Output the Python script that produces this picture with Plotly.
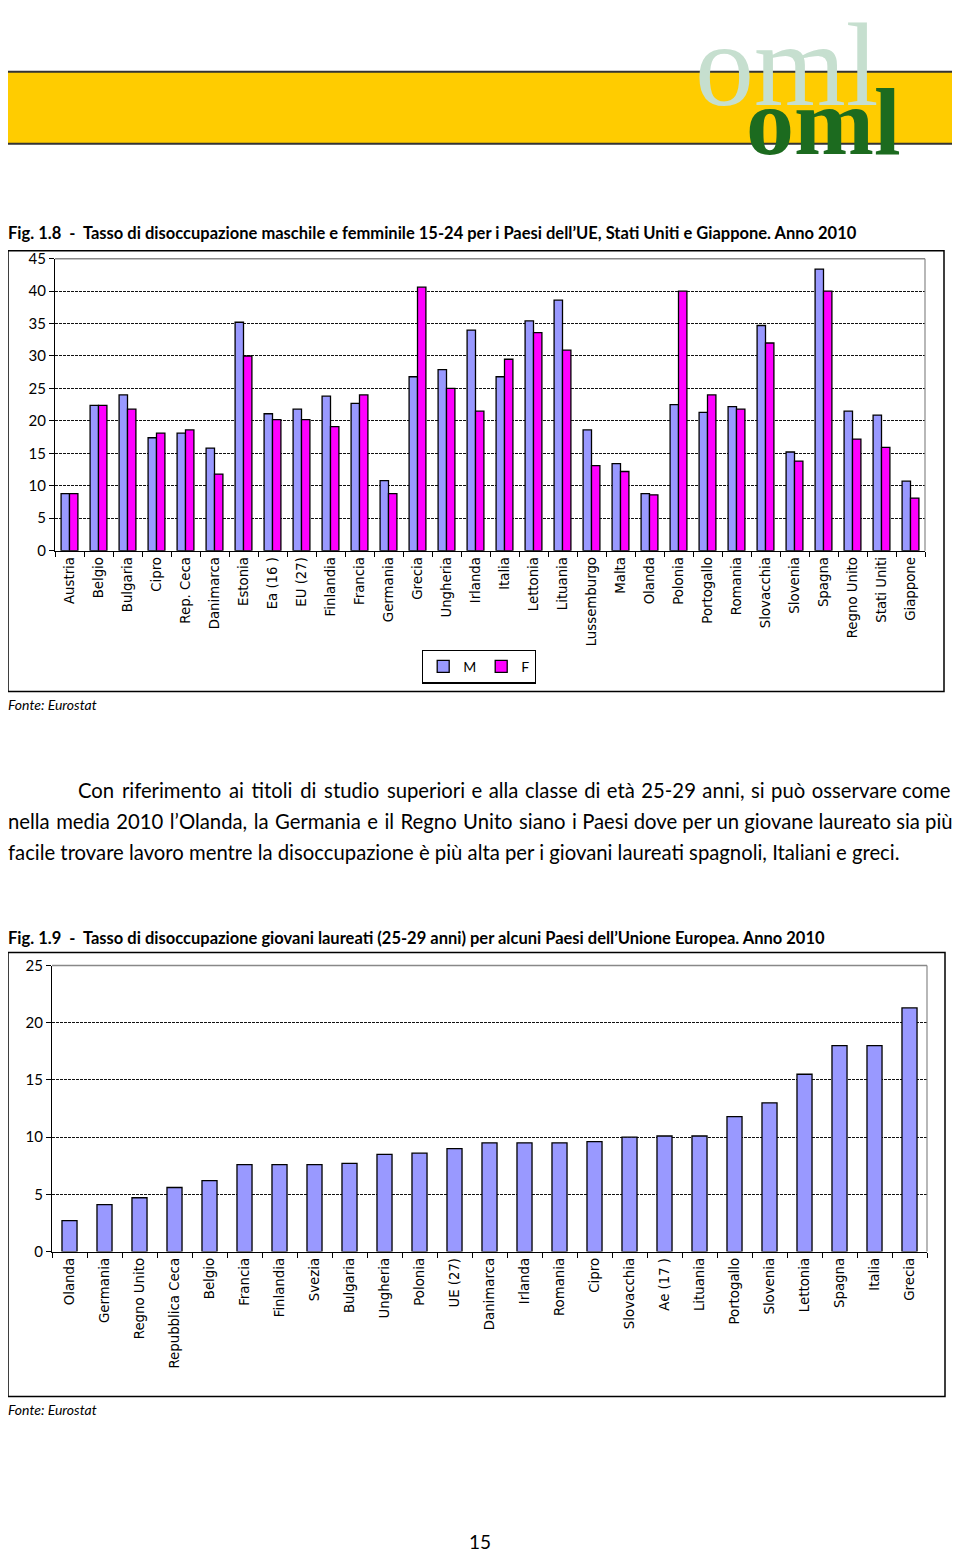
import plotly.graph_objects as go

# ---------------- data ----------------
paesi1 = ["Austria", "Belgio", "Bulgaria", "Cipro", "Rep. Ceca", "Danimarca", "Estonia",
          "Ea (16 )", "EU (27)", "Finlandia", "Francia", "Germania", "Grecia", "Ungheria",
          "Irlanda", "Italia", "Lettonia", "Lituania", "Lussemburgo", "Malta", "Olanda",
          "Polonia", "Portogallo", "Romania", "Slovacchia", "Slovenia", "Spagna",
          "Regno Unito", "Stati Uniti", "Giappone"]
maschi = [8.8, 22.4, 24.0, 17.4, 18.1, 15.8, 35.2, 21.1, 21.8, 23.8, 22.7, 10.8, 26.8, 27.9,
          34.0, 26.8, 35.4, 38.6, 18.6, 13.4, 8.8, 22.5, 21.3, 22.2, 34.7, 15.2, 43.4,
          21.5, 20.9, 10.7]
femmine = [8.8, 22.4, 21.8, 18.1, 18.6, 11.8, 30.0, 20.2, 20.2, 19.1, 24.0, 8.8, 40.6, 25.0,
           21.5, 29.5, 33.6, 30.9, 13.1, 12.2, 8.6, 40.0, 24.0, 21.8, 32.0, 13.8, 40.0,
           17.2, 15.9, 8.1]

paesi2 = ["Olanda", "Germania", "Regno Unito", "Repubblica Ceca", "Belgio", "Francia",
          "Finlandia", "Svezia", "Bulgaria", "Ungheria", "Polonia", "UE (27)", "Danimarca",
          "Irlanda", "Romania", "Cipro", "Slovacchia", "Ae (17 )", "Lituania", "Portogallo",
          "Slovenia", "Lettonia", "Spagna", "Italia", "Grecia"]
laureati = [2.7, 4.1, 4.7, 5.6, 6.2, 7.6, 7.6, 7.6, 7.7, 8.5, 8.6, 9.0, 9.5, 9.5, 9.5, 9.6,
            10.0, 10.1, 10.1, 11.8, 13.0, 15.5, 18.0, 18.0, 21.3]

ticks1 = [0, 5, 10, 15, 20, 25, 30, 35, 40, 45]
ticks2 = [0, 5, 10, 15, 20, 25]

titolo1 = "Fig. 1.8  -  Tasso di disoccupazione maschile e femminile 15-24 per i Paesi dell\u2019UE, Stati Uniti e Giappone. Anno 2010"
titolo2 = "Fig. 1.9  -  Tasso di disoccupazione giovani laureati (25-29 anni) per alcuni Paesi dell\u2019Unione Europea. Anno 2010"
testo = ["Con riferimento ai titoli di studio superiori e alla classe di età 25-29 anni, si può osservare come",
         "nella media 2010 l\u2019Olanda, la Germania e il Regno Unito siano i Paesi dove per un giovane laureato sia più",
         "facile trovare lavoro mentre la disoccupazione è più alta per i giovani laureati spagnoli, Italiani e greci."]

# ---------------- page geometry helpers ----------------
# horizontal: the plot div sits inside the 8px body margin
# vertical: the captured page area is ~1570px tall (shown at 1552) and the div starts ~17.5px down
MX = 8
W = 960 - 2 * MX
H = 1552
SY = 1552 / 1570
TOP = 17.5
def px(x):
    return (x - MX) / W
def py(y):
    return 1 - (y / SY - TOP) / H

BODY = "Lato, Carlito, 'Open Sans', sans-serif"
TICKF = "'DejaVu Sans', Verdana, sans-serif"
SERIF = "'Liberation Serif', 'Times New Roman', serif"

fig = go.Figure()

fig.add_trace(go.Bar(name="M", x=paesi1, y=maschi, marker=dict(color="#9999FF", line=dict(color="black", width=1.3)),
                     xaxis="x", yaxis="y"))
fig.add_trace(go.Bar(name="F", x=paesi1, y=femmine, marker=dict(color="#FF00FF", line=dict(color="black", width=1.3)),
                     xaxis="x", yaxis="y"))
fig.add_trace(go.Bar(name="Laureati", x=paesi2, y=laureati, showlegend=False, width=0.43,
                     marker=dict(color="#9999FF", line=dict(color="black", width=1.3)),
                     xaxis="x2", yaxis="y2"))

common_x = dict(type="category", tickson="boundaries", ticks="outside", ticklen=5, tickcolor="black",
                showline=True, linecolor="black", linewidth=1.2, tickangle=-90,
                tickfont=dict(family=TICKF, size=13.3, color="black"), showgrid=False, fixedrange=True)
common_y = dict(ticks="outside", ticklen=5, tickcolor="black", showline=True, linecolor="black", linewidth=1.2,
                tickfont=dict(family=BODY, size=15, color="black"), showgrid=True, gridcolor="#111111",
                gridwidth=1, griddash="3px,1px", zeroline=False, fixedrange=True)

fig.update_layout(
    width=W, height=H, margin=dict(l=0, r=0, t=0, b=0),
    paper_bgcolor="white", plot_bgcolor="white",
    barmode="group", bargap=0.42, bargroupgap=0.0,
    xaxis=dict(domain=[px(55), px(925)], anchor="y", **common_x),
    yaxis=dict(domain=[py(550), py(258)], anchor="x", range=[0, 45], tickvals=ticks1, **common_y),
    xaxis2=dict(domain=[px(52), px(927)], anchor="y2", **common_x),
    yaxis2=dict(domain=[py(1251), py(965)], anchor="x2", range=[0, 25], tickvals=ticks2, **common_y),
    legend=dict(orientation="h", x=px(479), y=py(666), xanchor="center", yanchor="middle",
                bordercolor="black", borderwidth=1.2, bgcolor="white",
                font=dict(family=BODY, size=14, color="black"), itemwidth=30,
                tracegroupgap=0),
    showlegend=True,
)

shapes = []
# header bar
shapes.append(dict(type="rect", xref="paper", yref="paper", x0=px(4), x1=px(953), y0=py(143), y1=py(71),
                   fillcolor="#FFCC00", line=dict(color="#333333", width=2), layer="below"))
# outer chart boxes
shapes.append(dict(type="rect", xref="paper", yref="paper", x0=px(8), x1=px(944), y0=py(691), y1=py(250),
                   line=dict(color="black", width=1.5), fillcolor="rgba(0,0,0,0)", layer="below"))
shapes.append(dict(type="rect", xref="paper", yref="paper", x0=px(8), x1=px(945), y0=py(1396), y1=py(952),
                   line=dict(color="black", width=1.5), fillcolor="rgba(0,0,0,0)", layer="below"))
# gray plot-area borders (top and right)
for xr, yr in (("x domain", "y domain"), ("x2 domain", "y2 domain")):
    shapes.append(dict(type="line", xref=xr, yref=yr, x0=0, x1=1, y0=1, y1=1,
                       line=dict(color="#888888", width=1.5), layer="above"))
    shapes.append(dict(type="line", xref=xr, yref=yr, x0=1, x1=1, y0=0, y1=1,
                       line=dict(color="#888888", width=1.2), layer="above"))
fig.update_layout(shapes=shapes)

HS = "\u200a"  # hair space, used to emulate justified text


def giustifica(riga, doppi, singoli):
    """Widen the first gaps of a line with hair spaces (emulates justified text)."""
    parole = riga.split(" ")
    out = parole[0]
    for k, p in enumerate(parole[1:]):
        if k < doppi:
            sep = " " + HS + HS
        elif k < doppi + singoli:
            sep = " " + HS
        else:
            sep = " "
        out += sep + p
    return out


ann = []
# logo
ann.append(dict(text="oml", xref="paper", yref="paper", x=px(787), y=py(132), xanchor="center", yanchor="bottom",
                showarrow=False, font=dict(family=SERIF, size=118, color="#C6DFCF")))
ann.append(dict(text="<b>oml</b>", xref="paper", yref="paper", x=px(823), y=py(176), xanchor="center", yanchor="bottom",
                showarrow=False, font=dict(family=SERIF, size=96, color="#1C6B1F")))
# titles
ann.append(dict(text="<b>" + titolo1 + "</b>", xref="paper", yref="paper", x=px(6), y=py(232),
                xanchor="left", yanchor="middle", showarrow=False, font=dict(family=BODY, size=16.5, color="black")))
ann.append(dict(text="<b>" + titolo2 + "</b>", xref="paper", yref="paper", x=px(6), y=py(937),
                xanchor="left", yanchor="middle", showarrow=False, font=dict(family=BODY, size=16.5, color="black")))
# sources
for yy in (704, 1409):
    ann.append(dict(text="<i>Fonte: Eurostat</i>", xref="paper", yref="paper", x=px(6), y=py(yy),
                    xanchor="left", yanchor="middle", showarrow=False, font=dict(family=BODY, size=14, color="black")))
# paragraph (first two lines are justified in the original)
righe = [giustifica(testo[0], 6, 10), giustifica(testo[1], 0, 11), testo[2]]
for i, (line, x0) in enumerate(zip(righe, (76, 6, 6))):
    ann.append(dict(text=line, xref="paper", yref="paper", x=px(x0), y=py(789 + 31 * i),
                    xanchor="left", yanchor="middle", showarrow=False, font=dict(family=BODY, size=20.3, color="black")))
# page number
ann.append(dict(text="15", xref="paper", yref="paper", x=px(480), y=py(1541), xanchor="center", yanchor="middle",
                showarrow=False, font=dict(family=BODY, size=19, color="black")))
fig.update_layout(annotations=ann)

fig.write_html("out.html")
